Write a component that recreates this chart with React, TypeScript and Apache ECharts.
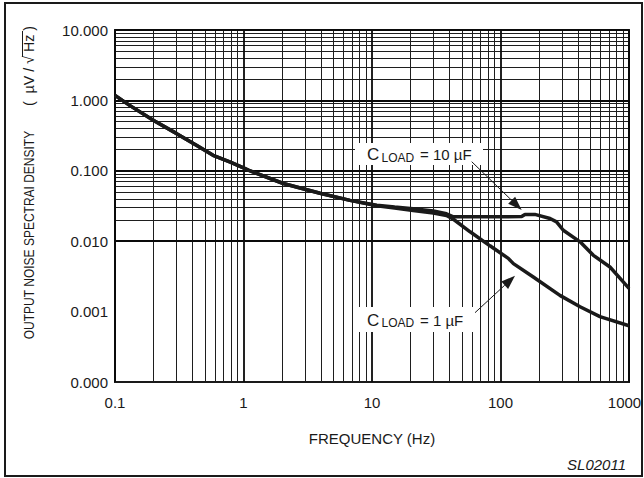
import React, { useEffect, useRef } from "react";
import * as echarts from "echarts";

// ---- data ----
const freq10uF = [0.1, 0.13, 0.2, 0.3, 0.43, 0.58, 0.79, 1.0, 1.09, 2.04, 3.94, 6.74, 10.9, 15, 20.9, 30, 38, 43, 60, 100, 146, 155, 185, 243, 273, 308, 416, 528, 711, 877, 1000];
const nd10uF = [1.18, 0.85, 0.52, 0.34, 0.23, 0.166, 0.133, 0.11, 0.102, 0.066, 0.048, 0.038, 0.0325, 0.0305, 0.029, 0.0268, 0.0245, 0.0222, 0.0222, 0.0222, 0.0224, 0.024, 0.024, 0.021, 0.0188, 0.0143, 0.0098, 0.0063, 0.0043, 0.0028, 0.00214];

const freq1uF = [0.1, 0.13, 0.2, 0.3, 0.43, 0.58, 0.79, 1.0, 1.09, 2.04, 3.94, 6.74, 10.9, 15, 20.9, 30, 38, 43, 58, 82.8, 115, 126, 180, 290, 416, 594, 1000];
const nd1uF = [1.18, 0.85, 0.52, 0.34, 0.23, 0.166, 0.133, 0.11, 0.102, 0.066, 0.048, 0.038, 0.0318, 0.0295, 0.0272, 0.0252, 0.0232, 0.0205, 0.0136, 0.0086, 0.0057, 0.0048, 0.0031, 0.0017, 0.00117, 0.00085, 0.00063];

const xDecades = [0.1, 1, 10, 100, 1000];
const yDecades = [0.0001, 0.001, 0.01, 0.1, 1, 10];
const minorMultipliers = [2, 3, 4, 5, 6, 7, 8, 9];

const xTitle = "FREQUENCY (Hz)";
const yTitleMain = "OUTPUT NOISE SPECTRAI DENSITY";
const yTitleUnit = "(  µV / √ Hz )";
const footnote = "SL02011";

const FONT = "'Liberation Sans', Arial, Helvetica, sans-serif";

function minorValues(decades: number[]) {
  const out: number[] = [];
  for (let i = 0; i < decades.length - 1; i++) {
    for (const m of minorMultipliers) out.push(Number((decades[i] * m).toPrecision(4)));
  }
  return out;
}

function arrow(x1: number, y1: number, x2: number, y2: number, len = 14, half = 5) {
  const dx = x2 - x1, dy = y2 - y1;
  const d = Math.sqrt(dx * dx + dy * dy);
  const ux = dx / d, uy = dy / d;
  const bx = x2 - ux * len, by = y2 - uy * len;
  const px = -uy * half, py = ux * half;
  return [
    { type: "line", shape: { x1, y1, x2: bx, y2: by }, style: { stroke: "#1a1a1a", lineWidth: 1 }, z: 20 },
    { type: "polygon", shape: { points: [[x2, y2], [bx + px, by + py], [bx - px, by - py]] }, style: { fill: "#1a1a1a" }, z: 20 },
  ];
}

function label(x: number, y: number, w: number, h: number, value: string) {
  return [
    { type: "rect", shape: { x, y, width: w, height: h }, style: { fill: "#ffffff" }, z: 15 },
    { type: "text", x: x + 12, y: y + h / 2 + 0.5, style: { text: "C", font: `17px ${FONT}`, fill: "#1a1a1a", verticalAlign: "middle", align: "left" }, z: 16 },
    { type: "text", x: x + 26.5, y: y + h / 2 + 3.5, style: { text: "LOAD", font: `12px ${FONT}`, fill: "#1a1a1a", verticalAlign: "middle", align: "left" }, z: 16 },
    { type: "text", x: x + 65, y: y + h / 2 + 0.5, style: { text: value, font: `15px ${FONT}`, fill: "#1a1a1a", verticalAlign: "middle", align: "left" }, z: 16 },
  ];
}

export default function App() {
  const ref = useRef<HTMLDivElement>(null);
  useEffect(() => {
    document.body.style.margin = "0";
    const chart = echarts.init(ref.current!, null, { renderer: "svg" });
    const xMinor = minorValues(xDecades);
    const yMinor = minorValues(yDecades);
    const gridSeries = (xs: number[], ys: number[], color: string, width: number, z: number) => ({
      type: "line",
      data: [[1, 1]],
      showSymbol: false,
      lineStyle: { opacity: 0 },
      silent: true,
      z,
      markLine: {
        silent: true,
        symbol: ["none", "none"],
        label: { show: false },
        animation: false,
        lineStyle: { color, width, type: "solid" },
        emphasis: { disabled: true },
        data: [...xs.map((v) => ({ xAxis: v })), ...ys.map((v) => ({ yAxis: v }))],
      },
    });
    const option: any = {
      animation: false,
      backgroundColor: "#ffffff",
      textStyle: { fontFamily: FONT },
      grid: {
        left: 115, right: 15, top: 30, bottom: 96,
        show: true, borderColor: "#1a1a1a", borderWidth: 2, backgroundColor: "transparent",
        containLabel: false, outerBoundsMode: "none",
      },
      xAxis: {
        type: "log", logBase: 10, min: 0.1, max: 1000,
        axisLine: { show: false }, axisTick: { show: false }, splitLine: { show: false },
        axisLabel: {
          fontSize: 15, color: "#1a1a1a", margin: 13, fontFamily: FONT,
          formatter: (v: number) => (v < 1 ? v.toFixed(1) : v >= 1000 ? "{r|" + Math.round(v) + "}" : String(Math.round(v))),
          rich: { r: { fontSize: 15, color: "#1a1a1a", fontFamily: FONT, padding: [0, 9, 0, 0] } },
        },
      },
      yAxis: {
        type: "log", logBase: 10, min: 0.0001, max: 10,
        axisLine: { show: false }, axisTick: { show: false }, splitLine: { show: false },
        axisLabel: {
          fontSize: 15, color: "#1a1a1a", margin: 7, fontFamily: FONT,
          formatter: (v: number) => v.toFixed(3),
        },
      },
      series: [
        gridSeries(xMinor, yMinor, "#1e1e1e", 1, 1),
        gridSeries(xDecades, yDecades, "#0a0a0a", 1.8, 2),
        {
          type: "line", name: "CLOAD = 10 µF", z: 5,
          data: freq10uF.map((f, i) => [f, nd10uF[i]]),
          showSymbol: false, lineStyle: { color: "#1a1a1a", width: 3.5 }, silent: true,
        },
        {
          type: "line", name: "CLOAD = 1 µF", z: 5,
          data: freq1uF.map((f, i) => [f, nd1uF[i]]),
          showSymbol: false, lineStyle: { color: "#1a1a1a", width: 3.5 }, silent: true,
        },
      ],
      graphic: [
        { type: "rect", shape: { x: 5, y: 3, width: 637, height: 473 }, style: { fill: "none", stroke: "#1a1a1a", lineWidth: 2 }, z: 30 },
        ...label(355, 143, 128, 22, "= 10 µF"),
        ...label(355, 307, 120, 25, "= 1 µF"),
        ...arrow(471.7, 161.7, 521.7, 210),
        ...arrow(475, 312.7, 515, 275.7),
        { type: "text", x: 372, y: 438, style: { text: xTitle, font: `15px ${FONT}`, fill: "#1a1a1a", align: "center", verticalAlign: "middle" }, z: 20 },
        { type: "text", x: 29, y: 235, rotation: Math.PI / 2, scaleX: 0.8, style: { text: yTitleMain, font: `15px ${FONT}`, fill: "#1a1a1a", align: "center", verticalAlign: "middle" }, z: 20 },
        { type: "text", x: 29, y: 66, rotation: Math.PI / 2, scaleX: 0.95, style: { text: yTitleUnit, font: `15px ${FONT}`, fill: "#1a1a1a", align: "center", verticalAlign: "middle" }, z: 20 },
        { type: "line", shape: { x1: 22.5, y1: 31, x2: 22.5, y2: 57 }, style: { stroke: "#1a1a1a", lineWidth: 1 }, z: 20 },
        { type: "text", x: 626, y: 464, style: { text: footnote, font: `italic 15px ${FONT}`, fill: "#1a1a1a", align: "right", verticalAlign: "middle" }, z: 20 },
      ],
    };
    chart.setOption(option);
    return () => chart.dispose();
  }, []);
  return <div ref={ref} style={{ width: 644, height: 478 }} />;
}
